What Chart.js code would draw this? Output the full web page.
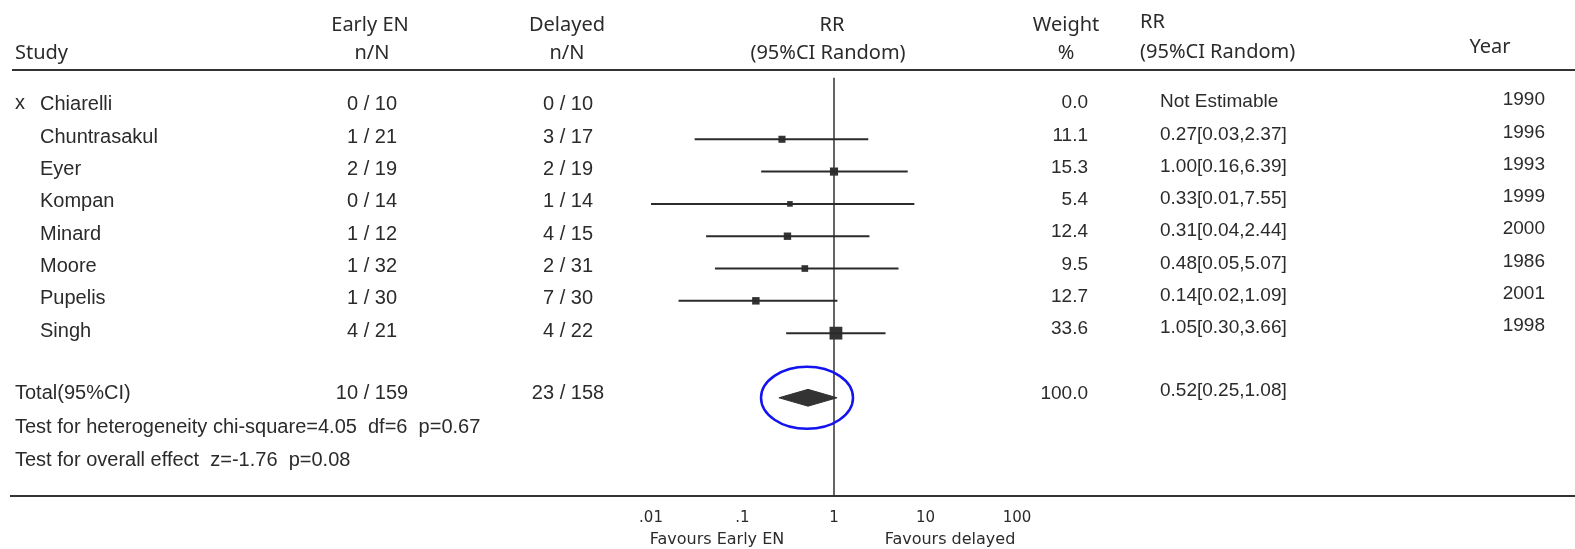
<!DOCTYPE html>
<html>
<head>
<meta charset="utf-8">
<script src="https://cdn.jsdelivr.net/npm/chart.js@4.4.1/dist/chart.umd.min.js"></script>
<style>
html,body{margin:0;padding:0;background:#fff}
canvas{display:block}
</style>
</head>
<body>
<canvas id="forest" width="1575" height="549"></canvas>
<script>
// data
const studies=['Chiarelli','Chuntrasakul','Eyer','Kompan','Minard','Moore','Pupelis','Singh'];
const excluded=[true,false,false,false,false,false,false,false];
const earlyEvents=[0,1,2,0,1,1,1,4];
const earlyTotal=[10,21,19,14,12,32,30,21];
const delayedEvents=[0,3,2,1,4,2,7,4];
const delayedTotal=[10,17,19,14,15,31,30,22];
const weights=[0.0,11.1,15.3,5.4,12.4,9.5,12.7,33.6];
const rr=[null,0.27,1.00,0.33,0.31,0.48,0.14,1.05];
const rrLow=[null,0.03,0.16,0.01,0.04,0.05,0.02,0.30];
const rrHigh=[null,2.37,6.39,7.55,2.44,5.07,1.09,3.66];
const years=[1990,1996,1993,1999,2000,1986,2001,1998];

// pooled result
const pooled=[0.52,0.25,1.08];   // RR, low, high
const earlySum=[10,159];
const delayedSum=[23,158];
const totalWeight=100.0;
const heteroText='Test for heterogeneity chi-square=4.05  df=6  p=0.67';
const overallText='Test for overall effect  z=-1.76  p=0.08';

// axis
const tickVals=[0.01,0.1,1,10,100];
const tickLabels=['.01','.1','1','10','100'];
const sideLabels=['Favours Early EN','Favours delayed'];

const ink='#2b2b2b';
const leftFont='20px "Liberation Sans", Arial, sans-serif';
const rightFont='19px "Liberation Sans", Arial, sans-serif';
const headFont='20px "Noto Sans", "DejaVu Sans", sans-serif';
const totalRow=studies.length+1;

//datasets
const datasets=[];

// confidence interval lines
for(let i=0;i<studies.length;i++){
    if(rr[i]===null) continue;
    datasets.push({
        data:[{x:rrLow[i],y:i},{x:rrHigh[i],y:i}],
        borderColor:ink,borderWidth:2,pointRadius:0,fill:false
    });
}

// study squares, size from weight
const squares=[];
const squareSize=[];
for(let i=0;i<studies.length;i++){
    if(rr[i]===null) continue;
    squares.push({x:rr[i],y:i});
    squareSize.push(3+weights[i]*0.18);
}
datasets.push({
    data:squares,showLine:false,pointStyle:'rect',
    pointRadius:squareSize,pointBackgroundColor:'#333',pointBorderWidth:0
});

// pooled diamond: upper half filled down to lower half
datasets.push({
    data:[{x:pooled[1],y:totalRow},{x:pooled[0],y:totalRow-0.26},{x:pooled[2],y:totalRow}],
    borderColor:'#333',borderWidth:1,pointRadius:0,fill:'+1',backgroundColor:'#333'
});
datasets.push({
    data:[{x:pooled[1],y:totalRow},{x:pooled[0],y:totalRow+0.26},{x:pooled[2],y:totalRow}],
    borderColor:'#333',borderWidth:1,pointRadius:0,fill:false
});

// line of no effect
datasets.push({
    data:[{x:1,y:-0.9},{x:1,y:12.04}],
    borderColor:'#333',borderWidth:1.5,pointRadius:0,fill:false
});

// text columns and rules drawn around the plot
const tablePlugin={
    id:'forestTable',
    beforeDraw(chart){
        const c=chart.ctx;
        c.save();
        c.fillStyle='#fff';
        c.fillRect(0,0,chart.width,chart.height);
        c.restore();
    },
    afterDraw(chart){
        const c=chart.ctx;
        const ys=chart.scales.y;
        const xs=chart.scales.x;
        function txt(s,x,y,align,font){
            c.font=font||leftFont;
            c.textAlign=align||'left';
            c.fillText(s,x,y);
        }
        c.save();
        c.fillStyle=ink;
        c.textBaseline='middle';

        // header
        txt('Study',15,53,'left',headFont);
        txt('Early EN',370,25,'center',headFont);
        txt('n/N',372,53,'center',headFont);
        txt('Delayed',567,25,'center',headFont);
        txt('n/N',567,53,'center',headFont);
        txt('RR',832,25,'center',headFont);
        txt('(95%CI Random)',828,53,'center',headFont);
        txt('Weight',1066,25,'center',headFont);
        txt('%',1066,53,'center',headFont);
        txt('RR',1140,22,'left',headFont);
        txt('(95%CI Random)',1140,52,'left',headFont);
        txt('Year',1490,47,'center',headFont);

        // study rows
        for(let i=0;i<studies.length;i++){
            const y=ys.getPixelForValue(i);
            if(excluded[i]) txt('x',15,y-3);
            txt(studies[i],40,y-2);
            txt(earlyEvents[i]+' / '+earlyTotal[i],372,y-2,'center');
            txt(delayedEvents[i]+' / '+delayedTotal[i],568,y-2,'center');
            txt(weights[i].toFixed(1),1088,y-4,'right',rightFont);
            if(rr[i]===null) txt('Not Estimable',1160,y-5,'left',rightFont);
            else txt(rr[i].toFixed(2)+'['+rrLow[i].toFixed(2)+','+rrHigh[i].toFixed(2)+']',1160,y-5,'left',rightFont);
            txt(String(years[i]),1545,y-7,'right',rightFont);
        }

        // total rows
        const ty=ys.getPixelForValue(totalRow);
        txt('Total(95%CI)',15,ty-4);
        txt(earlySum[0]+' / '+earlySum[1],372,ty-4,'center');
        txt(delayedSum[0]+' / '+delayedSum[1],568,ty-4,'center');
        txt(totalWeight.toFixed(1),1088,ty-4,'right',rightFont);
        txt(pooled[0].toFixed(2)+'['+pooled[1].toFixed(2)+','+pooled[2].toFixed(2)+']',1160,ty-7,'left',rightFont);
        txt(heteroText,15,ys.getPixelForValue(totalRow+1)-3);
        txt(overallText,15,ys.getPixelForValue(totalRow+2)-2);

        // rules
        c.strokeStyle='#333';
        c.lineWidth=2;
        c.beginPath();
        c.moveTo(12,70);c.lineTo(1575,70);
        c.moveTo(10,chart.chartArea.bottom);c.lineTo(1575,chart.chartArea.bottom);
        c.stroke();

        // favours labels
        c.font='16px "DejaVu Sans", sans-serif';
        c.textAlign='center';
        c.fillText(sideLabels[0],717,540);
        c.fillText(sideLabels[1],950,540);

        // blue ring round the pooled diamond
        c.strokeStyle='#1414f0';
        c.lineWidth=2.5;
        c.beginPath();
        c.ellipse(xs.getPixelForValue(pooled[0])-1,ty,46,31,0,0,Math.PI*2);
        c.stroke();
        c.restore();
    }
};

new Chart(document.getElementById('forest'),{
    type:'line',
    data:{datasets:datasets},
    options:{
        responsive:false,
        animation:false,
        devicePixelRatio:1,
        layout:{autoPadding:false,padding:{left:651,right:558,top:0,bottom:0}},
        plugins:{legend:{display:false},tooltip:{enabled:false}},
        scales:{
            x:{
                type:'logarithmic',
                min:0.01,max:100,
                grid:{display:false,drawTicks:false},
                border:{display:false},
                afterBuildTicks(scale){
                    scale.ticks=tickVals.map(v=>({value:v}));
                },
                afterFit(scale){
                    scale.height=53;
                },
                ticks:{
                    autoSkip:false,maxRotation:0,padding:13,
                    color:ink,
                    font:{family:'"DejaVu Sans", sans-serif',size:15},
                    callback:(val,i)=>tickLabels[i]
                }
            },
            y:{
                type:'linear',display:false,reverse:true,
                min:-3.31,max:12.04
            }
        }
    },
    plugins:[tablePlugin]
});
</script>
</body>
</html>
